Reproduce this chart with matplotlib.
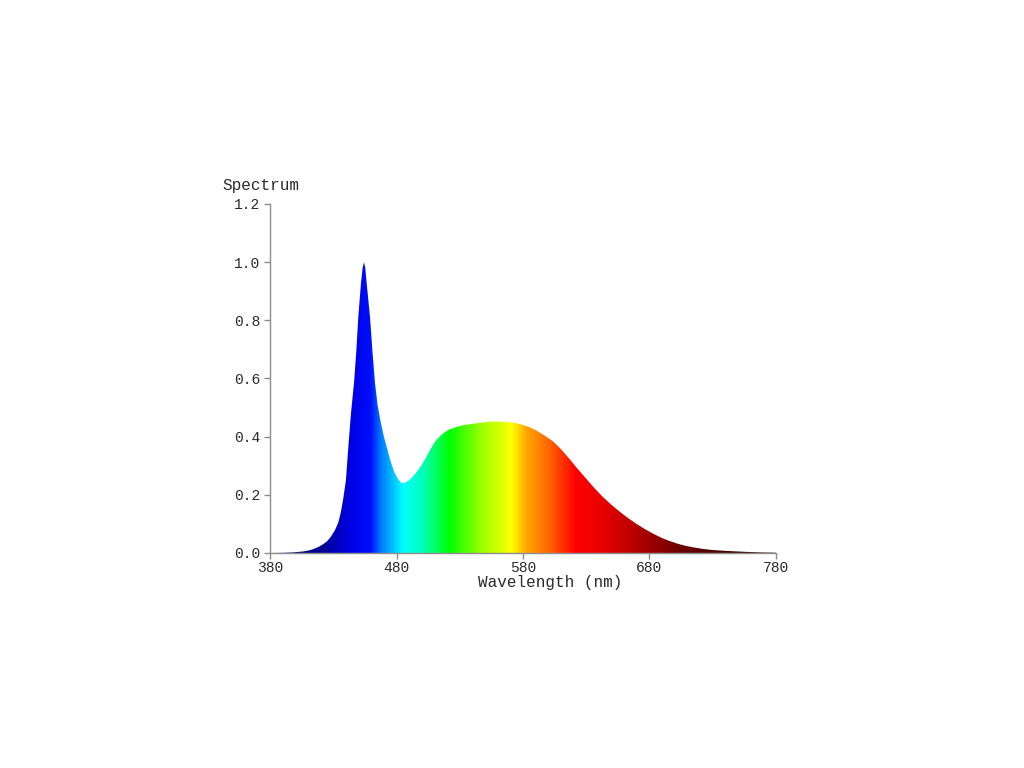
import numpy as np
import matplotlib
matplotlib.use("Agg")
import matplotlib.pyplot as plt
from matplotlib.colors import LinearSegmentedColormap

# spectrum (wavelength in nm, relative intensity)
wavelength = [380, 390, 398, 406, 411, 414, 418, 422, 425, 428, 431.4, 434, 436,
              438, 440, 442, 444, 446.5, 448.3, 449.8, 451.9, 453.2, 454.3, 455.3,
              456.4, 459, 460.9, 463, 465, 467.5, 470, 472.5, 475, 478, 481, 484,
              487, 490, 494, 498, 502, 506, 510, 514, 518, 522, 528, 535, 545,
              555, 565, 572, 578, 585, 591, 597, 604, 610, 617, 623, 630, 636,
              643, 650, 657, 663, 670, 676, 683, 690, 696, 702, 708, 715, 722,
              730, 741, 755, 767, 780]
intensity = [0.0, 0.0005, 0.002, 0.005, 0.009, 0.013, 0.02, 0.03, 0.04, 0.055,
             0.079, 0.105, 0.14, 0.19, 0.25, 0.37, 0.48, 0.59, 0.70, 0.813,
             0.927, 0.98, 1.0, 0.98, 0.927, 0.813, 0.698, 0.584, 0.51, 0.45,
             0.40, 0.36, 0.32, 0.28, 0.255, 0.24, 0.242, 0.25, 0.268, 0.29,
             0.318, 0.35, 0.38, 0.40, 0.415, 0.425, 0.434, 0.441, 0.447, 0.452,
             0.451, 0.448, 0.443, 0.433, 0.42, 0.404, 0.383, 0.357, 0.322,
             0.29, 0.255, 0.225, 0.193, 0.165, 0.14, 0.12, 0.099, 0.083,
             0.066, 0.051, 0.041, 0.032, 0.025, 0.019, 0.014, 0.010, 0.007,
             0.004, 0.002, 0.001]

# colour stops of the fill gradient
stop_nm = [380, 406, 422, 443, 459, 467, 485, 501, 522, 546, 571, 583, 601,
           622, 640, 665, 704, 740, 780]
stop_rgb = [(0, 0, 90), (0, 0, 130), (0, 0, 150), (0, 0, 230), (0, 15, 250),
            (0, 120, 255), (0, 255, 255), (0, 255, 180), (0, 255, 0),
            (150, 255, 0), (255, 255, 0), (255, 165, 0), (255, 100, 0),
            (255, 0, 0), (235, 0, 0), (190, 0, 0), (110, 0, 0), (70, 0, 0),
            (50, 0, 0)]

x_ticks = [380, 480, 580, 680, 780]
y_ticks = [0.0, 0.2, 0.4, 0.6, 0.8, 1.0, 1.2]

FONT = "Liberation Mono"
TXT = "#2a2a2a"
AXC = "#8c8c8c"

fig = plt.figure(figsize=(10.24, 7.68), dpi=100)
ax = fig.add_axes([0.2637, 0.28, 0.4941, 0.4544])

lo, hi = stop_nm[0], stop_nm[-1]
cmap = LinearSegmentedColormap.from_list(
    "spec", [((w - lo) / (hi - lo), tuple(c / 255 for c in rgb)) for w, rgb in zip(stop_nm, stop_rgb)])
grad = np.linspace(0, 1, 800).reshape(1, -1)
im = ax.imshow(grad, cmap=cmap, extent=[380, 780, 0, 1.2], aspect="auto",
               origin="lower", interpolation="bilinear", zorder=2)

xs = list(wavelength) + [wavelength[-1], wavelength[0]]
ys = list(intensity) + [0, 0]
poly = ax.fill(xs, ys, facecolor="none", edgecolor="none")[0]
im.set_clip_path(poly)

ax.set_xlim(380, 780)
ax.set_ylim(0, 1.2)
ax.set_xticks(x_ticks)
ax.set_yticks(y_ticks)
ax.set_yticklabels([f"{v:.1f}" for v in y_ticks])

for s in ("top", "right"):
    ax.spines[s].set_visible(False)
for s in ("left", "bottom"):
    ax.spines[s].set_color(AXC)
    ax.spines[s].set_linewidth(1)
ax.tick_params(colors=AXC, length=4, width=1, labelcolor=TXT, labelsize=10.5)
ax.tick_params(axis="x", pad=2)
ax.tick_params(axis="y", pad=3)
for lab in ax.get_xticklabels() + ax.get_yticklabels():
    lab.set_family(FONT)

fig.text(0.217, 0.758, "Spectrum", family=FONT, fontsize=11.5, color=TXT,
         ha="left", va="center")
fig.text(0.537, 0.241, "Wavelength (nm)", family=FONT, fontsize=11.5, color=TXT,
         ha="center", va="center")

fig.savefig("out.png", dpi=100)
